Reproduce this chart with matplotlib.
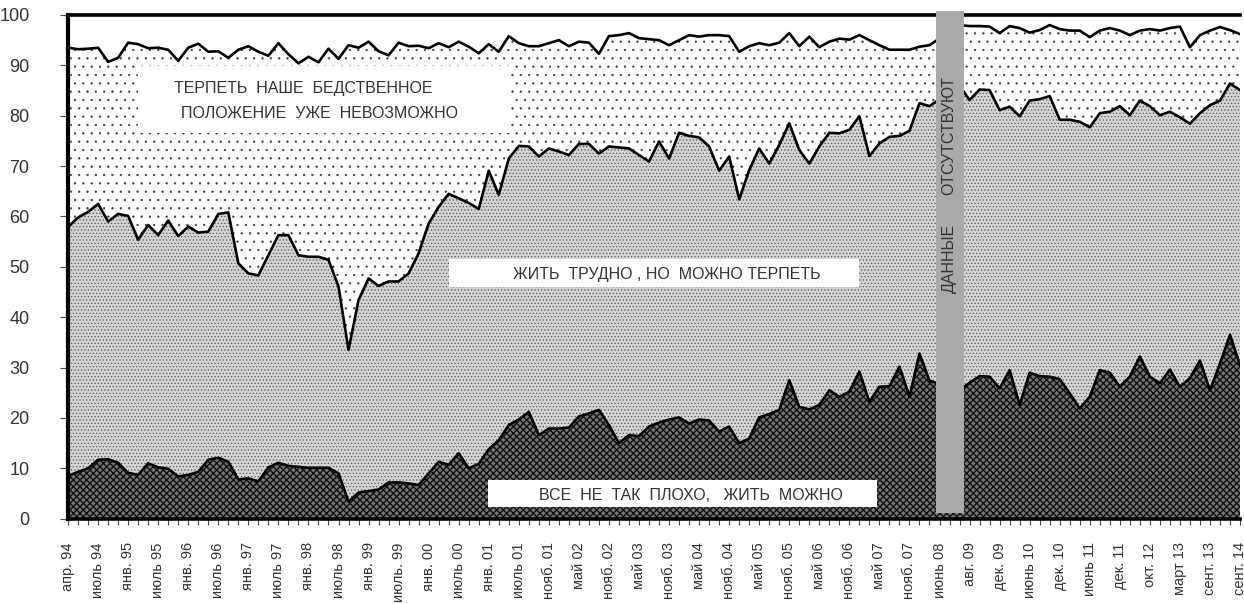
import matplotlib
matplotlib.use('Agg')
import matplotlib.pyplot as plt
from matplotlib.patches import Rectangle

plt.rcParams['font.family'] = ['Liberation Sans Narrow', 'Liberation Sans', 'DejaVu Sans']

# survey waves: index on the x axis, no data for two waves (under the grey bar)
wave_pos = list(range(0, 87)) + list(range(89, 118))

# upper line: "ТЕРПЕТЬ ... НЕВОЗМОЖНО" top boundary (cumulative %)
upper = [93.5, 93.2, 93.3, 93.5, 90.7, 91.5, 94.5, 94.2, 93.4, 93.5,
         93.1, 90.9, 93.5, 94.3, 92.7, 92.8, 91.5, 93.1, 93.8, 92.7,
         91.9, 94.4, 92.2, 90.4, 91.7, 90.6, 93.3, 91.3, 94.0, 93.5,
         94.7, 92.8, 92.0, 94.5, 93.8, 93.9, 93.4, 94.4, 93.6, 94.7,
         93.7, 92.4, 94.2, 92.7, 95.8, 94.4, 93.8, 93.8, 94.4, 95.0,
         93.8, 94.7, 94.5, 92.3, 95.8, 96.0, 96.4, 95.4, 95.2, 95.0,
         94.0, 95.0, 96.0, 95.7, 96.0, 96.0, 95.8, 92.7, 93.8, 94.4,
         94.0, 94.5, 96.4, 93.8, 95.7, 93.6, 94.7, 95.3, 95.1, 96.0,
         95.0, 94.0, 93.1, 93.1, 93.1, 93.7, 94.0,
         98.0, 97.8, 97.8, 97.7, 96.4, 97.8, 97.4, 96.5, 97.0, 98.0,
         97.2, 96.9, 96.9, 95.6, 96.9, 97.4, 96.9, 96.0, 96.9, 97.2,
         96.9, 97.4, 97.7, 93.6, 96.0, 96.9, 97.6, 97.0, 96.2]

# middle line: "ВСЕ НЕ ТАК ПЛОХО" + "ЖИТЬ ТРУДНО, НО МОЖНО ТЕРПЕТЬ"
middle = [57.9, 59.8, 60.9, 62.5, 59.0, 60.5, 60.1, 55.4, 58.3, 56.3,
          59.2, 56.1, 58.0, 56.8, 57.0, 60.5, 60.8, 50.7, 48.7, 48.3,
          52.3, 56.3, 56.3, 52.3, 52.0, 52.0, 51.4, 46.1, 33.5, 43.4,
          47.7, 46.2, 47.1, 47.1, 48.7, 52.7, 58.6, 61.9, 64.5, 63.6,
          62.7, 61.5, 69.1, 64.3, 71.5, 74.0, 73.9, 71.9, 73.5, 72.9,
          72.2, 74.4, 74.4, 72.5, 73.9, 73.7, 73.5, 72.2, 70.9, 74.9,
          71.5, 76.6, 76.0, 75.7, 73.9, 69.1, 71.9, 63.4, 69.2, 73.5,
          70.5, 74.2, 78.5, 73.2, 70.5, 73.9, 76.6, 76.5, 77.2, 79.9,
          72.0, 74.5, 75.8, 76.0, 77.0, 82.5, 81.9,
          86.0, 83.1, 85.2, 85.1, 81.1, 81.8, 79.9, 83.0, 83.3, 83.9,
          79.2, 79.2, 78.8, 77.7, 80.5, 80.8, 81.9, 80.1, 83.0, 81.9,
          80.1, 80.8, 79.7, 78.4, 80.5, 82.1, 83.0, 86.4, 85.1]

# lower line: "ВСЕ НЕ ТАК ПЛОХО, ЖИТЬ МОЖНО"
lower = [8.5, 9.3, 10.0, 11.7, 11.8, 11.1, 9.1, 8.7, 11.0, 10.2,
         9.9, 8.4, 8.7, 9.3, 11.7, 12.1, 11.3, 7.8, 8.0, 7.4,
         10.2, 11.1, 10.5, 10.3, 10.1, 10.1, 10.1, 9.0, 3.4, 5.2,
         5.5, 5.8, 7.2, 7.2, 7.0, 6.7, 9.0, 11.3, 10.7, 13.0,
         10.0, 10.9, 13.8, 15.6, 18.6, 19.7, 21.2, 16.6, 17.9, 17.9,
         18.1, 20.3, 20.9, 21.6, 18.6, 15.0, 16.6, 16.4, 18.3, 19.1,
         19.7, 20.1, 18.9, 19.7, 19.5, 17.3, 18.3, 15.0, 15.9, 20.1,
         20.8, 21.6, 27.5, 22.2, 21.7, 22.6, 25.5, 24.2, 25.2, 29.2,
         23.2, 26.2, 26.3, 30.2, 24.2, 32.8, 27.4,
         25.5, 27.0, 28.3, 28.2, 25.9, 29.5, 22.6, 29.0, 28.3, 28.2,
         27.7, 24.9, 21.9, 24.2, 29.5, 29.0, 26.2, 28.2, 32.2, 28.2,
         26.9, 29.6, 26.2, 27.9, 31.4, 25.5, 30.8, 36.5, 30.5]

tick_labels = ['апр. 94', 'июль 94', 'янв. 95', 'июль 95', 'янв. 96', 'июль 96',
               'янв. 97', 'июль 97', 'янв. 98', 'июль 98', 'янв. 99', 'июль. 99',
               'янв. 00', 'июль 00', 'янв. 01', 'июль 01', 'нояб. 01', 'май 02',
               'нояб. 02', 'май 03', 'нояб. 03', 'май 04', 'нояб. 04', 'май 05',
               'нояб. 05', 'май 06', 'нояб. 06', 'май 07', 'нояб. 07', 'июнь 08',
               'авг. 09', 'дек. 09', 'июнь 10', 'дек. 10', 'июнь 11', 'дек. 11',
               'окт. 12', 'март 13', 'сент. 13', 'сент. 14']
n_waves = 118
text_col = '#333333'


def hatched_band(ax, lo, hi, face, hatch, hcolor, hlw):
    with plt.rc_context({'hatch.color': hcolor, 'hatch.linewidth': hlw}):
        band = ax.fill_between(wave_pos, lo, hi, facecolor=face, edgecolor=hcolor,
                               hatch=hatch, linewidth=0, zorder=1)
    return band


fig = plt.figure(figsize=(12.44, 6.04), dpi=100)
ax = fig.add_axes([0.0547, 0.1412, 0.9421, 0.834])

# region : bands
hatched_band(ax, middle, upper, 'white', '..', '#3a3a3a', 0.4)
hatched_band(ax, lower, middle, '#d4d4d4', '.....', '#555555', 0.5)
hatched_band(ax, 0, lower, '#767676', 'xxxxx', '#111111', 1.0)
# endregion

# white boxes behind labels
ax.add_patch(Rectangle((7.0, 76.5), 37.2, 13.3, facecolor='white', edgecolor='none', zorder=2))
ax.add_patch(Rectangle((38.0, 46.0), 41.0, 5.5, facecolor='white', edgecolor='none', zorder=2))
ax.add_patch(Rectangle((41.9, 2.3), 38.9, 5.4, facecolor='white', edgecolor='none', zorder=2))

for series in (upper, middle, lower):
    ax.plot(wave_pos, series, color='black', linewidth=1.9, zorder=3)

ax.text(23.5, 85.5, 'ТЕРПЕТЬ  НАШЕ  БЕДСТВЕННОЕ', ha='center', va='center',
        fontsize=11.5, color=text_col, zorder=4)
ax.text(25.1, 80.5, 'ПОЛОЖЕНИЕ  УЖЕ  НЕВОЗМОЖНО', ha='center', va='center',
        fontsize=11.5, color=text_col, zorder=4)
ax.text(59.8, 48.5, 'ЖИТЬ  ТРУДНО , НО  МОЖНО ТЕРПЕТЬ', ha='center', va='center',
        fontsize=11.5, color=text_col, zorder=4)
ax.text(62.2, 4.6, 'ВСЕ  НЕ  ТАК  ПЛОХО,   ЖИТЬ  МОЖНО', ha='center', va='center',
        fontsize=11.5, color=text_col, zorder=4)

# grey bar: no data
ax.add_patch(Rectangle((86.6, 1.2), 2.8, 99.5, facecolor='#a9abab', edgecolor='none',
                       zorder=5, clip_on=False))
ax.text(87.95, 51.7, 'ДАННЫЕ', rotation=90, ha='center', va='center',
        fontsize=11.5, color=text_col, zorder=6)
ax.text(87.95, 76.0, 'ОТСУТСТВУЮТ', rotation=90, ha='center', va='center',
        fontsize=11.5, color=text_col, zorder=6)

ax.set_xlim(0, n_waves - 1)
ax.set_ylim(0, 100)
ax.set_xticks(range(0, n_waves, 3))
ax.set_xticklabels(tick_labels, rotation=90, fontsize=10.5, color=text_col)
ax.set_xticks(range(n_waves), minor=True)
ax.set_yticks(range(0, 101, 10))
ax.set_yticklabels([str(v) for v in range(0, 101, 10)], fontsize=13, color=text_col)
ax.tick_params(axis='x', which='both', direction='out', length=4, width=0.8,
               color='#444444', pad=13)
ax.tick_params(axis='y', direction='out', length=5.8, width=0.8, color='#444444', pad=22)

ax.spines['right'].set_visible(False)
ax.spines['left'].set_linewidth(3.0)
ax.spines['top'].set_linewidth(2.6)
ax.spines['bottom'].set_linewidth(2.6)

fig.savefig('out.png', dpi=100)
